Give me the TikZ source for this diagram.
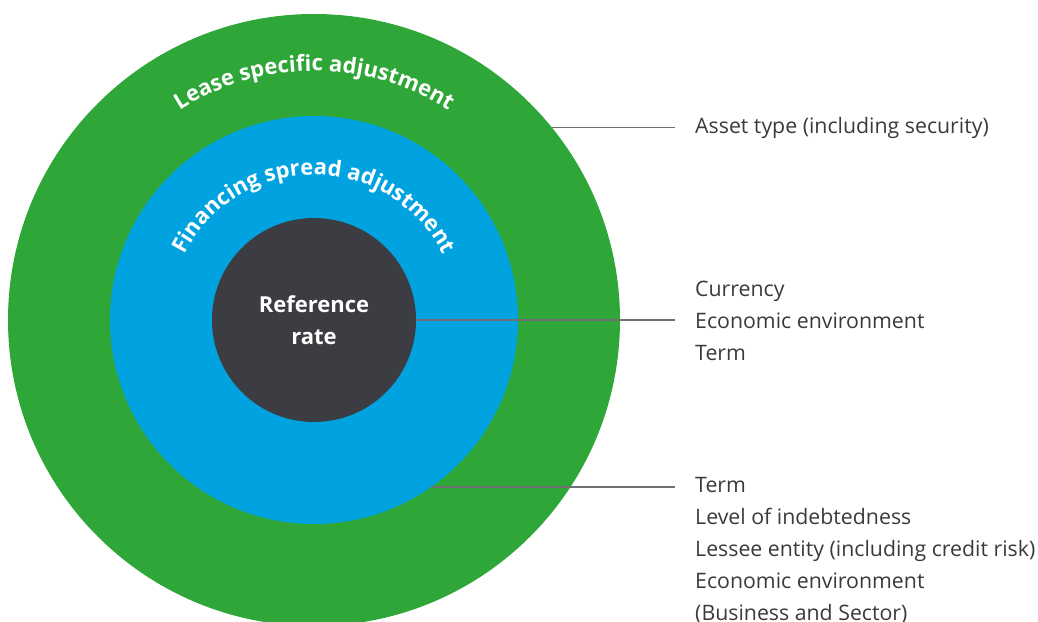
\documentclass[tikz,border=0pt]{standalone}
\usepackage{fontspec}
\setmainfont{Open Sans}
\usetikzlibrary{positioning,decorations.text}

\definecolor{leasegreen}{HTML}{2EA738}
\definecolor{spreadblue}{HTML}{00A3E0}
\definecolor{refdark}{HTML}{3C3D42}
\definecolor{linegray}{HTML}{707070}
\definecolor{itemgray}{HTML}{3A3A3A}
\newcommand{\ringfont}{\fontsize{22}{26}\selectfont\bfseries\color{white}}

\begin{document}
\begin{tikzpicture}[x=1pt,y=1pt,node distance=32pt,
  ring/.style={circle,inner sep=0pt,outer sep=0pt},
  item/.style={anchor=base west,inner sep=0pt,text=itemgray,font=\fontsize{21.3}{25}\selectfont},
  link/.style={draw=linegray,line width=1.5pt,shorten >=20pt}]

  \clip (-314,-301) rectangle (724,320);

  % the three rings
  \node[ring,fill=leasegreen,minimum size=612pt] (lease) at (0,0) {};
  \node[ring,fill=spreadblue,minimum size=408pt] (spread) at (0,0) {};
  \node[ring,fill=refdark,minimum size=204pt,text=white,align=center,
        font=\fontsize{22}{32}\selectfont\bfseries] (ref) at (0,0) {Reference\\rate};

  \path[decorate,decoration={text along path,text align=center,
        text={|\ringfont|Lease specific adjustment}}]
    (150:249pt) arc[start angle=150,end angle=30,radius=249pt];
  \path[decorate,decoration={text along path,text align=center,
        text={|\ringfont|Financing spread adjustment}}]
    (170:145pt) arc[start angle=170,end angle=10,radius=145pt];

  % factors
  \node[item] (asset) at (381,186.5) {Asset type (including security)};

  \node[item] (cur) at (381,23.3) {Currency};
  \node[item,below=of cur.base west,anchor=base west] (eco1) {Economic environment};
  \node[item,below=of eco1.base west,anchor=base west] (term1) {Term};

  \node[item] (term2) at (381,-172.3) {Term};
  \node[item,below=of term2.base west,anchor=base west] (level) {Level of indebtedness};
  \node[item,below=of level.base west,anchor=base west] (lessee) {Lessee entity (including credit risk)};
  \node[item,below=of lessee.base west,anchor=base west] (eco2) {Economic environment};
  \node[item,below=of eco2.base west,anchor=base west] (sector) {(Business and Sector)};

  \draw[link] (lease.39.6) -- (lease.39.6 -| asset.west);
  \draw[link] (ref.east) -- (ref.east -| eco1.west);
  \draw[link] (spread.-55.3) -- (spread.-55.3 -| term2.west);

\end{tikzpicture}
\end{document}
